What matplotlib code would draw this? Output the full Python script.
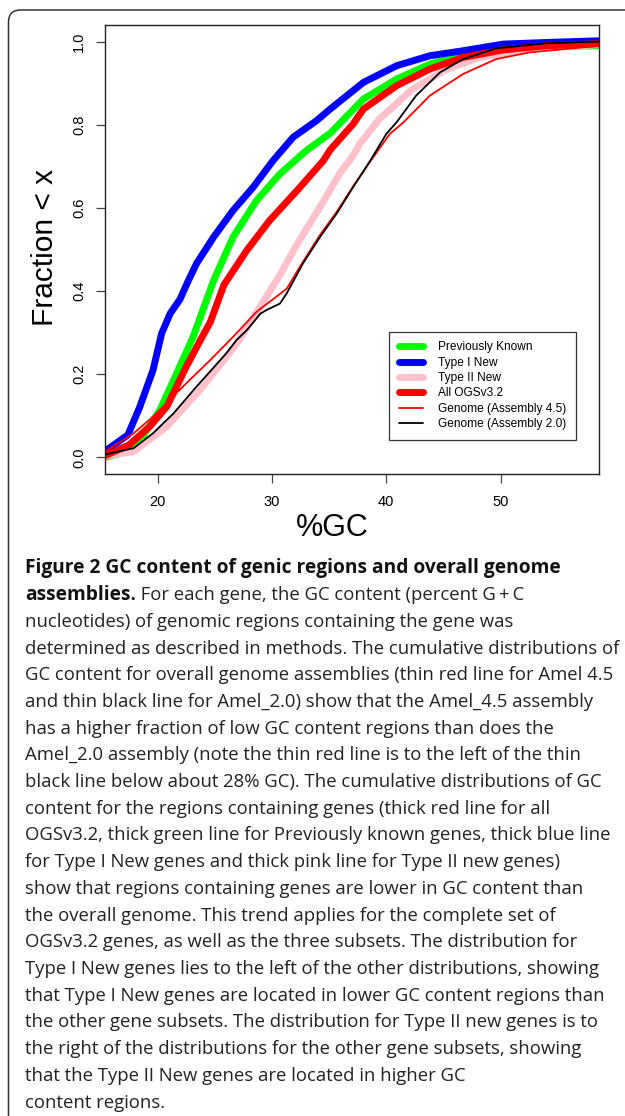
import matplotlib
matplotlib.use("Agg")
import matplotlib.pyplot as plt
from matplotlib.patches import FancyBboxPatch
from matplotlib.transforms import IdentityTransform
from matplotlib.lines import Line2D

W, H = 625, 1116
DPI = 100

# ---------------- data ----------------
gc_prev = [15.4, 17.9, 20.2, 21.66, 23.1, 24.9, 26.6, 28.65, 30.7, 33.0, 35.1, 38.0, 40.9, 43.8, 46.7, 50.2, 54.0, 58.6]
fr_prev = [0.0, 0.018, 0.114, 0.202, 0.29, 0.426, 0.53, 0.618, 0.682, 0.738, 0.78, 0.862, 0.91, 0.946, 0.97, 0.982, 0.988, 0.99]

gc_type1 = [15.4, 17.4, 18.45, 19.6, 20.35, 21.1, 21.95, 22.7, 23.4, 24.9, 26.6, 28.36, 30.1, 31.85, 33.9, 35.1, 38.0, 40.9, 43.8, 46.7, 50.2, 54.0, 58.6]
fr_type1 = [0.015, 0.054, 0.122, 0.21, 0.298, 0.346, 0.38, 0.426, 0.466, 0.53, 0.594, 0.65, 0.714, 0.77, 0.81, 0.838, 0.902, 0.942, 0.966, 0.978, 0.994, 0.998, 1.002]

gc_type2 = [15.4, 17.9, 20.8, 23.7, 26.6, 27.2, 28.9, 30.5, 32.4, 34.2, 35.9, 37.1, 37.7, 39.4, 42.3, 45.3, 48.2, 52.5, 58.6]
fr_type2 = [0.003, 0.014, 0.074, 0.162, 0.262, 0.285, 0.36, 0.43, 0.522, 0.602, 0.682, 0.726, 0.755, 0.814, 0.886, 0.934, 0.962, 0.982, 0.993]

gc_all = [15.4, 17.5, 19.3, 20.8, 22.5, 23.7, 24.6, 25.8, 27.8, 29.8, 32.2, 34.5, 35.1, 37.1, 38.0, 40.9, 43.8, 46.7, 50.2, 54.0, 58.6]
fr_all = [0.004, 0.03, 0.074, 0.122, 0.218, 0.28, 0.325, 0.415, 0.498, 0.57, 0.642, 0.714, 0.74, 0.802, 0.838, 0.894, 0.934, 0.962, 0.98, 0.99, 0.995]

gc_g45 = [15.4, 17.9, 19.6, 22.2, 24.6, 26.6, 28.65, 31.3, 32.7, 34.2, 35.65, 37.1, 38.6, 40.3, 41.5, 43.8, 46.7, 49.6, 52.5, 58.6]
fr_g45 = [0.014, 0.058, 0.098, 0.17, 0.234, 0.29, 0.35, 0.406, 0.47, 0.535, 0.59, 0.652, 0.712, 0.778, 0.806, 0.87, 0.922, 0.958, 0.974, 0.99]

gc_g20 = [15.4, 17.9, 19.6, 21.4, 23.4, 26.0, 26.9, 27.8, 29.0, 29.5, 30.7, 31.3, 32.7, 34.2, 35.65, 37.1, 38.6, 40.0, 40.9, 42.6, 44.7, 46.7, 49.6, 54.0, 58.6]
fr_g20 = [0.007, 0.022, 0.058, 0.106, 0.17, 0.25, 0.282, 0.306, 0.346, 0.354, 0.37, 0.395, 0.466, 0.53, 0.586, 0.65, 0.714, 0.778, 0.806, 0.87, 0.926, 0.958, 0.984, 0.996, 1.0]

labels = ["Previously Known", "Type I New", "Type II New", "All OGSv3.2",
          "Genome (Assembly 4.5)", "Genome (Assembly 2.0)"]
colors = ["#00ff00", "#0000ff", "#ffc0cb", "#ff0000", "#ff0000", "#000000"]
xticks = [20, 30, 40, 50]
yticks = [0.0, 0.2, 0.4, 0.6, 0.8, 1.0]
ytick_labels = ["0.0", "0.2", "0.4", "0.6", "0.8", "1.0"]

caption_bold_1 = "Figure 2 GC content of genic regions and overall genome"
caption_bold_2 = "assemblies."
caption_rest_2 = " For each gene, the GC content (percent G\u2009+\u2009C"
caption_lines = [
    "nucleotides) of genomic regions containing the gene was",
    "determined as described in methods. The cumulative distributions of",
    "GC content for overall genome assemblies (thin red line for Amel 4.5",
    "and thin black line for Amel_2.0) show that the Amel_4.5 assembly",
    "has a higher fraction of low GC content regions than does the",
    "Amel_2.0 assembly (note the thin red line is to the left of the thin",
    "black line below about 28% GC). The cumulative distributions of GC",
    "content for the regions containing genes (thick red line for all",
    "OGSv3.2, thick green line for Previously known genes, thick blue line",
    "for Type I New genes and thick pink line for Type II new genes)",
    "show that regions containing genes are lower in GC content than",
    "the overall genome. This trend applies for the complete set of",
    "OGSv3.2 genes, as well as the three subsets. The distribution for",
    "Type I New genes lies to the left of the other distributions, showing",
    "that Type I New genes are located in lower GC content regions than",
    "the other gene subsets. The distribution for Type II new genes is to",
    "the right of the distributions for the other gene subsets, showing",
    "that the Type II New genes are located in higher GC",
    "content regions.",
]

# ---------------- figure ----------------
fig = plt.figure(figsize=(W / DPI, H / DPI), dpi=DPI)
fig.patch.set_facecolor("white")

# rounded border (pixel coordinates)
border = FancyBboxPatch((8.5, -50), 700, H - 10 + 50,
                        boxstyle="round,pad=0,rounding_size=12",
                        transform=IdentityTransform(), fill=False,
                        edgecolor="#333333", linewidth=1.1, clip_on=False)
fig.patches.append(border)

ax_l, ax_r, ax_t, ax_b = 105, 599, 25, 474
ax = fig.add_axes([ax_l / W, 1 - ax_b / H, (ax_r - ax_l) / W, (ax_b - ax_t) / H])

THICK, THIN = 5.0, 1.3
series = [(gc_prev, fr_prev, THICK), (gc_type1, fr_type1, THICK), (gc_type2, fr_type2, THICK),
          (gc_all, fr_all, THICK), (gc_g45, fr_g45, THIN), (gc_g20, fr_g20, THIN)]
for (x, y, lw), c, lab in zip(series, colors, labels):
    ax.plot(x, y, color=c, lw=lw, label=lab, solid_capstyle="round",
            solid_joinstyle="round")

ax.set_xlim(15.4, 58.6)
ax.set_ylim(-0.04, 1.04)
ax.set_xticks(xticks)
ax.set_xticklabels([str(t) for t in xticks], fontsize=10.5, family="Liberation Sans")
ax.set_yticks(yticks)
ax.set_yticklabels(ytick_labels, fontsize=10.5, family="Liberation Sans",
                   rotation=90, va="center", ha="right")
ax.tick_params(axis="both", direction="out", length=6.2, width=0.9, color="#444444")
ax.tick_params(axis="x", pad=9)
ax.tick_params(axis="y", pad=7.5)
for s in ax.spines.values():
    s.set_linewidth(1.0)
    s.set_color("#222222")

fig.text(45 / W, 1 - 247 / H, "Fraction < x", rotation=90, fontsize=21.5,
         family="Liberation Sans", ha="center", va="center")
fig.text(332 / W, 1 - 528 / H, "%GC", fontsize=22, family="Liberation Sans",
         ha="center", va="center")

handles = [Line2D([], [], color=c, lw=(THICK if i < 4 else THIN), solid_capstyle="round")
           for i, c in enumerate(colors)]
leg = ax.legend(handles, labels, loc="upper left", bbox_to_anchor=(0.563, 0.33),
                frameon=True, fancybox=False, framealpha=1,
                edgecolor="#333333", handlelength=2.0, handletextpad=1.3,
                labelspacing=0.28, borderpad=0.8, prop={"family": "Liberation Sans", "size": 8.6})
leg.get_frame().set_linewidth(0.9)

# ---------------- caption ----------------
fam = "Open Sans"
size = 13.0
fig.canvas.draw()
r = fig.canvas.get_renderer()
probe = fig.text(0, 0, caption_lines[1], fontsize=size, family=fam)
wpx = probe.get_window_extent(r).width
probe.remove()
size = size * 592.0 / wpx

probe = fig.text(0, 0, caption_bold_1, fontsize=size, family=fam, weight="bold")
bpx = probe.get_window_extent(r).width
probe.remove()
bsize = min(size * 537.0 / bpx, size * 1.06)

x0 = 25
base0 = 573.5
step = 26.7
fig.text(x0 / W, 1 - base0 / H, caption_bold_1, fontsize=bsize, family=fam,
         weight="bold", va="baseline", color="#111111")
tb = fig.text(x0 / W, 1 - (base0 + step) / H, caption_bold_2, fontsize=bsize, family=fam,
              weight="bold", va="baseline", color="#111111")
bw = tb.get_window_extent(r).width
fig.text((x0 + bw) / W, 1 - (base0 + step) / H, caption_rest_2, fontsize=size,
         family=fam, va="baseline", color="#222222")
for i, line in enumerate(caption_lines):
    fig.text(x0 / W, 1 - (base0 + (i + 2) * step) / H, line, fontsize=size,
             family=fam, va="baseline", color="#222222")

fig.savefig("out.png", dpi=DPI, facecolor="white")
